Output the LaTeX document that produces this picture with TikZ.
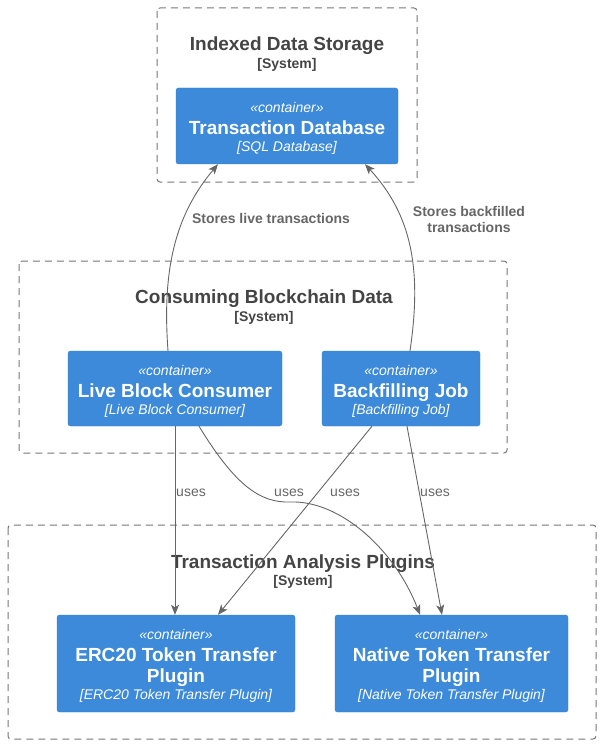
\documentclass[tikz,border=0pt]{standalone}
\usepackage{fontspec}
\setmainfont{Liberation Sans}
\usetikzlibrary{arrows.meta}
\definecolor{cfill}{HTML}{3C8AD9}
\definecolor{cdraw}{HTML}{3A80C8}
\definecolor{bnd}{HTML}{777777}
\definecolor{ttl}{HTML}{444444}
\definecolor{edg}{HTML}{666666}
\newcommand{\cit}[1]{{\itshape #1}}
\newcommand{\cst}[1]{{\rule{0pt}{15pt}\itshape #1}}
\newcommand{\ctt}[1]{{\fontsize{19}{19}\selectfont\bfseries #1}}
\tikzset{
  cbox/.style={draw=cdraw, fill=cfill, rounded corners=2.5pt, text=white, align=center,
    font=\fontsize{14}{19}\selectfont, inner sep=0pt},
  bndbox/.style={draw=bnd, line width=1pt, dash pattern=on 7pt off 5pt, rounded corners=3pt},
  btitle/.style={text=ttl, font=\fontsize{19}{21}\selectfont\bfseries, inner sep=0pt},
  bsys/.style={text=ttl, font=\fontsize{14}{16}\selectfont\bfseries, inner sep=0pt},
  rel/.style={draw=edg, line width=0.9pt, -{Stealth[length=10pt,width=8pt,inset=2.5pt]}},
  rlabel/.style={text=edg, font=\fontsize{14}{16}\selectfont\bfseries, align=center, inner sep=0pt},
  ulabel/.style={text=edg, font=\fontsize{14}{16}\selectfont, inner sep=0pt}
}
\begin{document}
\begin{tikzpicture}[x=1pt, y=-1pt]
\useasboundingbox (0,0) rectangle (600,746);
% boundaries
\draw[bndbox] (157,8) rectangle (417,182);
\draw[bndbox] (19,261) rectangle (507,453);
\draw[bndbox] (8,525) rectangle (596,739);
\node[btitle] (t1) at (287,46) {Indexed Data Storage};
\node[bsys] (s1) at (287,65) {[System]};
\node[btitle] (t2) at (264,299) {Consuming Blockchain Data};
\node[bsys] (s2) at (264,318) {[System]};
\node[btitle] (t3) at (303,564) {Transaction Analysis Plugins};
\node[bsys] (s3) at (303,582) {[System]};
% containers
\node[cbox, minimum width=222pt, minimum height=76pt] (db) at (287,126)
  {\cst{«container»}\\[3pt] \ctt{Transaction Database}\\[-2pt] \cit{[SQL Database]}};
\node[cbox, minimum width=214pt, minimum height=75pt] (lbc) at (175,388.5)
  {\cst{«container»}\\[3pt] \ctt{Live Block Consumer}\\[-2pt] \cit{[Live Block Consumer]}};
\node[cbox, minimum width=158pt, minimum height=75pt] (bj) at (401,388.5)
  {\cst{«container»}\\[3pt] \ctt{Backfilling Job}\\[-2pt] \cit{[Backfilling Job]}};
\node[cbox, minimum width=238pt, minimum height=97pt] (erc) at (176,663.5)
  {\cst{«container»}\\[3pt] \ctt{ERC20 Token Transfer}\\[2pt] \ctt{Plugin}\\[-2.5pt] \cit{[ERC20 Token Transfer Plugin]}};
\node[cbox, minimum width=233pt, minimum height=97pt] (nat) at (451.5,663.5)
  {\cst{«container»}\\[3pt] \ctt{Native Token Transfer}\\[2pt] \ctt{Plugin}\\[-2.5pt] \cit{[Native Token Transfer Plugin]}};
% relations
\draw[rel] ([xshift=-7pt]lbc.north) .. controls +(-6,-81) and +(-43,51) .. ([xshift=-69pt]db.south);
\draw[rel] ([xshift=9pt]bj.north) .. controls +(12,-81) and +(47,51) .. ([xshift=78pt]db.south);
\draw[rel] (lbc.south) -- ([xshift=-1pt]erc.north);
\coordinate (w) at (290,502);
\draw[rel] ([xshift=24pt]lbc.south) .. controls +(36,59) and +(-30,1) .. (w)
  .. controls +(50,-2) and +(-25,-65) .. ([xshift=-31.5pt]nat.north);
\draw[rel] ([xshift=-29pt]bj.south) -- ([xshift=42pt]erc.north);
\draw[rel] ([xshift=6pt]bj.south) -- ([xshift=-9.5pt]nat.north);
% labels
\node[rlabel] (l1) at (271,218) {Stores live transactions};
\node[rlabel] (l2) at (469,219) {Stores backfilled\\ transactions};
\node[ulabel] (u1) at (191,492.5) {uses};
\node[ulabel] (u2) at (289,492.5) {uses};
\node[ulabel] (u3) at (345,492.5) {uses};
\node[ulabel] (u4) at (435,492.5) {uses};
\end{tikzpicture}
\end{document}
